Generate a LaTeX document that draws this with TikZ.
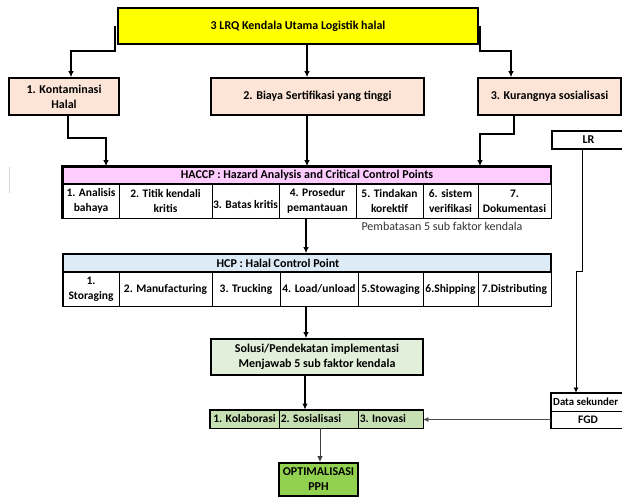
\documentclass[tikz,border=0pt]{standalone}
\usepackage{fontspec}
\setmainfont{Carlito}
\usetikzlibrary{arrows.meta}
\definecolor{cyellow}{HTML}{FFFF00}
\definecolor{cpeach}{HTML}{FCE4D6}
\definecolor{cpink}{HTML}{FFCCFF}
\definecolor{cblue}{HTML}{DDEBF7}
\definecolor{cgreenA}{HTML}{E2EFDA}
\definecolor{cgreenB}{HTML}{C6E0B4}
\definecolor{cgreenC}{HTML}{92D050}
\newcommand{\bx}[7]{\node[#1, minimum width={(#4)-(#3)}, minimum height={(#6)-(#5)}] (#2) at ({((#3)+(#4))/2},{((#5)+(#6))/2}) {#7};}
\begin{document}
\begin{tikzpicture}[x=1pt,y=-1pt,
  every node/.style={font=\fontsize{12}{15}\selectfont\bfseries, inner sep=0pt, align=center},
  box/.style={draw, line width=1.6pt},
  cell/.style={draw, line width=0.8pt, font=\fontsize{11.5}{15}\selectfont\bfseries},
  conn/.style={line width=1.6pt, -{Latex[length=6pt,width=5.5pt]}},
  thinconn/.style={line width=0.7pt, -{Latex[length=5pt,width=5pt]}},
  outline/.style={line width=1.6pt}]
\useasboundingbox (0,0) rectangle (622,497);
% top level
\bx{box, fill=cyellow}{top}{118}{478}{8}{44}{3 LRQ Kendala Utama Logistik halal}
\bx{box, fill=cpeach}{k1}{9}{119}{78}{115}{1. Kontaminasi\\Halal}
\bx{box, fill=cpeach}{k2}{211}{424}{78}{115}{2. Biaya Sertifikasi yang tinggi}
\bx{box, fill=cpeach}{k3}{478}{621}{78}{115}{3. Kurangnya sosialisasi}
% HACCP
\bx{box, fill=cpink}{haccp}{63}{551}{167}{184}{HACCP : Hazard Analysis and Critical Control Points}
\bx{cell}{h1}{63}{119}{184}{218}{1. Analisis\\bahaya}
\bx{cell}{h2}{119}{212}{184}{218}{2. Titik kendali\\kritis}
\bx{cell}{h3}{212}{279}{184}{218}{\mbox{}\\3. Batas kritis}
\bx{cell}{h4}{279}{356}{184}{218}{4. Prosedur\\pemantauan}
\bx{cell}{h5}{356}{423}{184}{218}{5. Tindakan\\korektif}
\bx{cell}{h6}{423}{478}{184}{218}{6. sistem\\verifikasi}
\bx{cell}{h7}{478}{551}{184}{218}{7.\\Dokumentasi}
\draw[outline] (haccp.north west) rectangle (h7.south east);
\node[font=\fontsize{12}{14}\selectfont, text=black!80] (pemb) at (442,226) {Pembatasan 5 sub faktor kendala};
% HCP
\bx{box, fill=cblue}{hcp}{63}{551}{254}{272}{}
\node (hcpt) at (278,263) {HCP : Halal Control Point};
\bx{cell}{c1}{63}{119}{272}{306}{1.\\Storaging}
\bx{cell}{c2}{119}{212}{272}{306}{2. Manufacturing}
\bx{cell}{c3}{212}{280}{272}{306}{3. Trucking}
\bx{cell}{c4}{280}{358}{272}{306}{4. Load/unload}
\bx{cell}{c5}{358}{423}{272}{306}{5.Stowaging}
\bx{cell}{c6}{423}{478}{272}{306}{6.Shipping}
\bx{cell}{c7}{478}{551}{272}{306}{7.Distributing}
\draw[line width=1pt] (hcp.north west) rectangle (c7.south east);
% solutions
\bx{box, fill=cgreenA}{sol}{211}{423}{339}{375}{Solusi/Pendekatan implementasi\\Menjawab 5 sub faktor kendala}
\bx{cell, fill=cgreenB}{b1}{210}{279}{410}{428}{1. Kolaborasi}
\bx{cell, fill=cgreenB}{b2}{279}{358}{410}{428}{}
\bx{cell, fill=cgreenB}{b3}{358}{423}{410}{428}{}
\node[anchor=west, font=\fontsize{11.5}{15}\selectfont\bfseries] (b2t) at ([xshift=2]b2.west) {2. Sosialisasi};
\node[anchor=west, font=\fontsize{11.5}{15}\selectfont\bfseries] (b3t) at ([xshift=2]b3.west) {3. Inovasi};
\draw[outline] (b1.north west) rectangle (b3.south east);
\bx{box, fill=cgreenC}{opt}{279}{358}{463}{496}{OPTIMALISASI\\PPH}
% right side
\bx{box, fill=white}{lr}{552}{625}{131}{149}{LR}
\bx{cell, fill=white}{ds}{551}{625}{393}{411}{}
\node[anchor=west, font=\fontsize{10.8}{13}\selectfont\bfseries] (dst) at (553,402) {Data sekunder};
\bx{cell, fill=white}{fgd}{551}{625}{411}{428}{FGD}
\draw[outline] (ds.north west) rectangle (fgd.south east);
% artifact line
\draw[black!15, line width=0.8pt] (9,167) -- (9,193);
% coordinates for connectors
\coordinate (m1) at (307,0);
\coordinate (a1) at (106,0);
\coordinate (a3) at (480,0);
\coordinate (m2) at (306,0);
\coordinate (m3) at (305,0);
\coordinate (m4) at (320,0);
\coordinate (l1) at (582,271);
\coordinate (l2) at (576,271);
% connectors
\draw[conn] ([xshift=-2]top.west) -- ++(0,25) -| ([xshift=7]k1.north);
\draw[conn] (top.south -| m1) -- (k2.north -| m1);
\draw[conn] ([xshift=1]top.east) -- ++(0,25) -| ([xshift=-38.5]k3.north);
\draw[conn] ([xshift=4]k1.south) -- ++(0,22) -| (haccp.north -| a1);
\draw[conn] (k2.south -| m1) -- (haccp.north -| m1);
\draw[conn] ([xshift=-35.5]k3.south) -- ++(0,18) -| (haccp.north -| a3);
\draw[conn] (h4.south -| m2) -- (hcp.north -| m2);
\draw[conn, line width=1.2pt] (c4.south -| m2) -- (sol.north -| m2);
\draw[conn, line width=1.2pt] (sol.south -| m3) -- (b2.north -| m3);
\draw[conn, line width=1pt, draw=black!75] (b2.south -| m4) -- (opt.north -| m4);
\draw[thinconn] (lr.south -| l1) -- (l1) -- (l2) -- (ds.north -| l2);
\draw[thinconn, draw=black!70] (fgd.west) -- (fgd.west -| b3.east);
\end{tikzpicture}
\end{document}
